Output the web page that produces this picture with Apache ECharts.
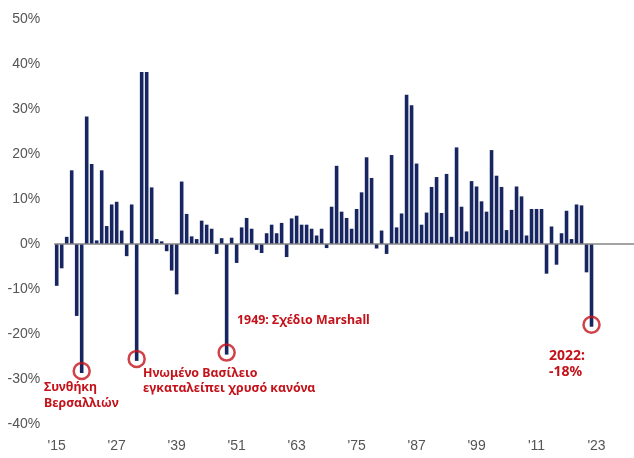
<!DOCTYPE html>
<html>
<head>
<meta charset="utf-8">
<script src="https://cdn.jsdelivr.net/npm/echarts@6/dist/echarts.min.js"></script>
<style>
  html, body { margin: 0; padding: 0; background: #fff; }
  #chart { width: 634px; height: 458px; }
</style>
</head>
<body>
<div id="chart"></div>
<script>
// yearly values, 1915 .. 2022 (%)
const firstYear = 1915;
const lastAxisYear = 2030;
const returns = [
  -9.3, -5.4, 1.6, 16.4, -16.0, -28.7, 28.4, 17.8, 0.8, 16.4,
  4.0, 8.8, 9.4, 3.0, -2.7, 8.8, -26.0, 38.3, 38.3, 12.6,
  1.1, 0.6, -1.6, -5.9, -11.2, 13.9, 6.7, 1.7, 1.1, 5.2,
  4.3, 3.4, -2.2, 1.3, -24.6, 1.4, -4.2, 3.7, 5.8, 3.4,
  -1.3, -2.0, 2.4, 4.3, 2.4, 4.7, -2.9, 5.7, 6.3, 4.3,
  4.3, 3.4, 1.9, 3.4, -0.9, 8.3, 17.4, 7.2, 5.8, 3.4,
  7.8, 11.5, 19.3, 14.7, -1.0, 3.0, -2.2, 19.8, 3.7, 6.8,
  33.2, 30.9, 17.9, 4.3, 7.0, 12.7, 14.9, 6.9, 15.6, 1.6,
  21.5, 8.3, 2.8, 14.0, 12.8, 9.5, 7.2, 20.9, 15.2, 12.7,
  3.1, 7.6, 12.8, 10.6, 1.9, 7.8, 7.8, 7.8, -6.6, 3.9,
  -4.6, 2.4, 7.4, 1.1, 8.8, 8.6, -6.3, -18.4
];
// circled years
const markedYears = ["1920", "1931", "1949", "2022"];
// y axis range / step
const yMin = -40, yMax = 50, yStep = 10;

const years = [];
for (let y = firstYear; y <= lastAxisYear; y++) years.push(String(y));

const circles = markedYears.map(y => [y, returns[Number(y) - firstYear]]);

const red = "#c4121a";
const navy = "#172560";
const labelGrey = "#555555";
const noteFont = 'bold 12.4px "Noto Sans"';

const chart = echarts.init(document.getElementById("chart"));

chart.setOption({
  animation: false,
  backgroundColor: "#fff",
  grid: { left: 54.2, right: -1.6, top: 19.3, bottom: 34.2 },
  xAxis: {
    type: "category",
    data: years,
    axisLine: { show: false, onZero: false },
    axisTick: { show: false },
    axisLabel: {
      interval: 11,
      margin: 15,
      color: labelGrey,
      fontFamily: "Liberation Sans",
      fontSize: 14,
      formatter: v => "'" + v.slice(2)
    }
  },
  yAxis: {
    type: "value",
    min: yMin,
    max: yMax,
    interval: yStep,
    splitLine: { show: false },
    axisLine: { show: false },
    axisTick: { show: false },
    axisLabel: {
      margin: 14,
      color: labelGrey,
      fontFamily: "Liberation Sans",
      fontSize: 14,
      formatter: v => v + "%"
    }
  },
  series: [
    {
      type: "bar",
      data: returns,
      barWidth: 3.6,
      itemStyle: { color: navy },
      markLine: {
        silent: true,
        symbol: "none",
        label: { show: false },
        lineStyle: { color: "#858585", width: 1.6, type: "solid" },
        data: [{ yAxis: 0 }]
      }
    },
    {
      type: "scatter",
      data: circles,
      symbol: "circle",
      symbolSize: 16,
      symbolOffset: [0, -2],
      itemStyle: { color: "rgba(0,0,0,0)", borderColor: red, borderWidth: 2.5 },
      z: 5
    }
  ],
  graphic: [
    {
      type: "text", left: 44, top: 379,
      style: { text: "Συνθήκη\nΒερσαλλιών", font: noteFont, fill: red, lineHeight: 16 }
    },
    {
      type: "text", left: 143, top: 366.5,
      style: { text: "Ηνωμένο Βασίλειο\nεγκαταλείπει χρυσό κανόνα", font: noteFont, fill: red, lineHeight: 14.5 }
    },
    {
      type: "text", left: 237, top: 312,
      style: { text: "1949: Σχέδιο Marshall", font: noteFont, fill: red, lineHeight: 16 }
    },
    {
      type: "text", left: 549, top: 347.5,
      style: { text: "2022:\n-18%", font: 'bold 14px "Noto Sans"', fill: red, lineHeight: 16.6 }
    }
  ]
});
</script>
</body>
</html>
